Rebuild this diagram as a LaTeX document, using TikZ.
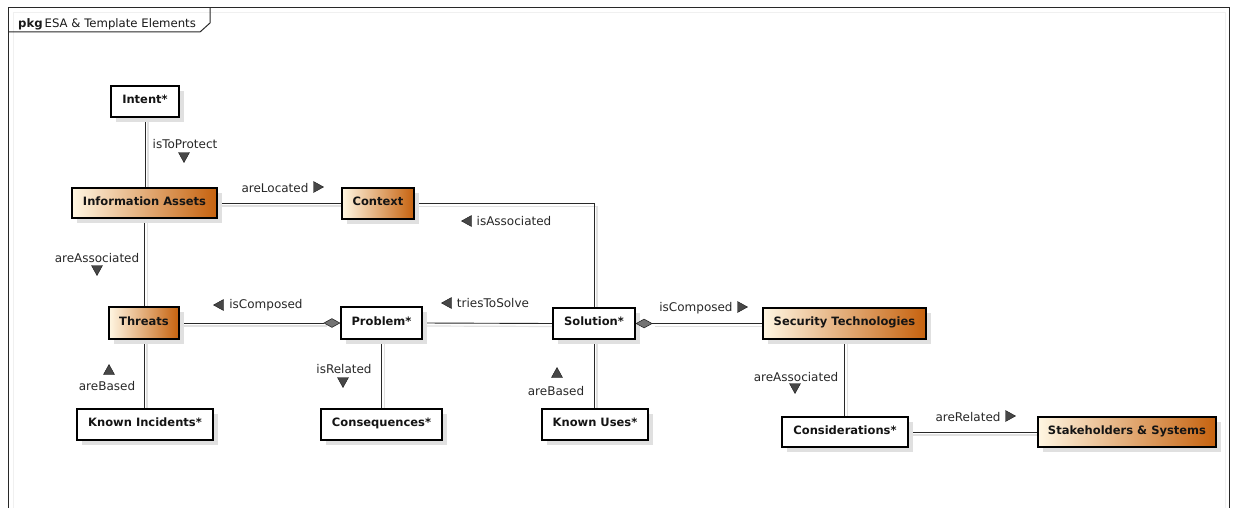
\documentclass[tikz,border=0pt]{standalone}
\usepackage{fontspec}
\setmainfont{DejaVu Sans}
\usetikzlibrary{shapes.geometric,shadows}
\pgfdeclarelayer{bg}
\pgfdeclarelayer{links}
\pgfsetlayers{bg,links,main}
\definecolor{cream}{RGB}{255,246,226}
\definecolor{amber}{RGB}{198,98,14}
\definecolor{ink}{RGB}{40,40,40}
\begin{document}
\begin{tikzpicture}[x=1pt,y=-1pt,
  cls/.style={draw=black, line width=1.6pt, inner sep=0pt,
    font=\fontsize{11.5}{13}\selectfont\bfseries, text=black!92,
    text height=9pt, text depth=5pt,
    drop shadow={shadow xshift=5pt,shadow yshift=-5pt,fill=black!12,opacity=1}},
  whitebox/.style={cls, fill=white},
  tintbox/.style={cls, left color=cream, right color=amber},
  link/.style={draw=ink, line width=0.9pt},
  linkshade/.style={draw=black!12, line width=1.2pt,
    transform canvas={xshift=3pt,yshift=-3pt}},
  lbl/.style={font=\fontsize{12}{14}\selectfont, text=ink, inner sep=0pt},
  agg/.style={diamond, draw=ink, fill=black!55, inner sep=0pt,
    minimum width=16pt, minimum height=9pt, line width=0.6pt},
  relmark/.pic={\fill[black!72, draw=black!90, line width=0.4pt]
    (-5.5,4.5) -- (5.5,4.5) -- (0,-5.5) -- cycle;}
]
% page and package frame
\begin{pgfonlayer}{bg}
  \fill[white] (0,0) rectangle (1233,508);
\end{pgfonlayer}
\useasboundingbox (0,0) rectangle (1233,508);
\draw[black!6, line width=1pt] (13,510) -- (13,13) -- (1225,13) -- (1225,510);
\draw[ink, line width=1pt] (8,510) -- (8,8) -- (1229,8) -- (1229,510);
\draw[ink, line width=1pt] (8,32) -- (200,32) -- (210,23) -- (210,8);
\node[anchor=base west, inner sep=0pt, font=\fontsize{11.7}{14}\selectfont, text=black!90]
  (title) at (18,28) {\textbf{pkg}\,ESA \& Template Elements};

% classes
\node[whitebox, minimum width=68pt, minimum height=31pt] (intent)  at (145,101.5) {Intent*};
\node[tintbox,  minimum width=145pt, minimum height=30pt] (info)   at (144.5,203) {Information Assets};
\node[tintbox,  minimum width=72pt, minimum height=31pt] (context) at (378,203.5) {Context};
\node[tintbox,  minimum width=70pt, minimum height=32pt] (threats) at (144,323) {Threats};
\node[whitebox, minimum width=81pt, minimum height=32pt] (problem) at (381.5,323) {Problem*};
\node[whitebox, minimum width=82pt, minimum height=31pt] (solution) at (594,323.5) {Solution*};
\node[tintbox,  minimum width=163pt, minimum height=31pt] (sectech) at (844.5,323.5) {Security Technologies};
\node[whitebox, minimum width=136pt, minimum height=31pt] (kinc)   at (145,424.5) {Known Incidents*};
\node[whitebox, minimum width=121pt, minimum height=31pt] (conseq) at (381.5,424.5) {Consequences*};
\node[whitebox, minimum width=106pt, minimum height=31pt] (kuses)  at (595,424.5) {Known Uses*};
\node[whitebox, minimum width=126pt, minimum height=30pt] (consid) at (845,432) {Considerations*};
\node[tintbox,  minimum width=178pt, minimum height=30pt] (stake)  at (1127,432) {Stakeholders \& Systems};

% aggregation diamonds
\node[agg, anchor=east] (aggprob) at (problem.west) {};
\node[agg, anchor=west] (aggsol)  at (solution.east) {};

% associations
\begin{pgfonlayer}{links}
  \foreach \s in {linkshade, link} {
    \draw[\s] (intent.south) -- (intent.south |- info.north);
    \draw[\s] (info.east) -- (info.east -| context.west);
    \draw[\s] (context.east) -| (solution.north);
    \draw[\s] (info.south) -- (info.south |- threats.north);
    \draw[\s] (threats.east) -- (aggprob.west);
    \draw[\s] (threats.south) -- (threats.south |- kinc.north);
    \draw[\s] (problem.south) -- (problem.south |- conseq.north);
    \draw[\s] (problem.east) -- (solution.west);
    \draw[\s] (solution.south) -- (solution.south |- kuses.north);
    \draw[\s] (aggsol.east) -- (sectech.west);
    \draw[\s] (sectech.south) -- (sectech.south |- consid.north);
    \draw[\s] (consid.east) -- (consid.east -| stake.west);
  }
\end{pgfonlayer}

% association names and reading directions
\node[lbl] (l1) at (185,144) {isToProtect};
\pic[rotate=180] at (184,157) {relmark};
\node[lbl] (l2) at (275,188) {areLocated};
\pic[rotate=-90] at (318,187) {relmark};
\node[lbl] (l3) at (514,221) {isAssociated};
\pic[rotate=90] at (467,221) {relmark};
\node[lbl] (l4) at (97,258) {areAssociated};
\pic[rotate=180] at (97,270) {relmark};
\node[lbl] (l5) at (266,305) {isComposed};
\pic[rotate=90] at (219,305) {relmark};
\pic at (109,370) {relmark};
\node[lbl] (l6) at (107,386) {areBased};
\node[lbl] (l7) at (344,369) {isRelated};
\pic[rotate=180] at (343,382) {relmark};
\node[lbl] (l8) at (493,303) {triesToSolve};
\pic[rotate=90] at (447,303) {relmark};
\node[lbl] (l9) at (696,308) {isComposed};
\pic[rotate=-90] at (742,307) {relmark};
\pic at (557,373) {relmark};
\node[lbl] (l10) at (556,391) {areBased};
\node[lbl] (l11) at (796,377) {areAssociated};
\pic[rotate=180] at (795,388) {relmark};
\node[lbl] (l12) at (968,417) {areRelated};
\pic[rotate=-90] at (1010,416) {relmark};
\end{tikzpicture}
\end{document}
